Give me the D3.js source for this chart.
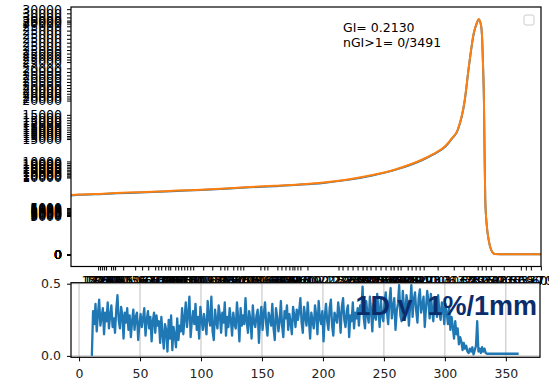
<!DOCTYPE html>
<html lang="en">
  <head>
    <title>Profile and 1D gamma</title>
    <meta charset="utf-8"/>
    <script type="text/javascript" src="https://cdn.jsdelivr.net/npm/d3@7"></script>
    <style>
     body { margin: 0; background: #fff; }
     text { font-family: "DejaVu Sans", sans-serif; }
    </style>
  </head>
  <body>
    <script type="text/javascript">
     // profile (top panel) ---------------------------------------------------------
     let profileX = [-6.6, 0, 20, 40, 60, 80, 100, 120, 140, 160, 180, 200, 220, 240, 260, 280, 290, 300, 305,
                     309.8, 315.6, 318.9, 323, 325.4, 327, 328.9, 329.9, 330.7, 331.3, 331.8, 332.4, 333.6,
                     335.2, 337.3, 340.2, 350, 365, 378];
     let measured = [7250, 7320, 7430, 7560, 7670, 7800, 7920, 8070, 8240, 8390, 8560, 8790, 9160, 9700, 10450,
                     11540, 12290, 13290, 14200, 15230, 18900, 22950, 27120, 28350, 28880, 28150, 26300, 22600,
                     18900, 12800, 6680, 3610, 1770, 545, 60, 20, 20, 20];
     let reference = [7300, 7360, 7470, 7600, 7700, 7840, 7960, 8110, 8280, 8430, 8590, 8830, 9200, 9750, 10500,
                      11600, 12350, 13350, 14250, 15280, 18960, 23000, 27180, 28400, 28900, 28160, 26320, 22640,
                      18960, 12820, 6690, 3620, 1780, 550, 60, 20, 20, 20];

     // the top plot has several twin y axes stacked on each other, each with its own top
     let yAxisTops = [25300, 25800, 26300, 26800, 27300, 27800, 28300, 28800, 29300, 29800, 30200, 30600];
     let yTickVals = [0, 5000, 10000, 15000, 20000, 25000, 30000];
     // crowded x tick positions of the top plot
     let topXTicks = [15.6, 17.2, 18.9, 20.5, 22.1, 26.2, 27.9, 29.5, 36.1, 45.9, 51.6, 56.6, 62.3, 64.8, 67.2,
                      70.5, 73.0, 74.6, 78.7, 81.1, 83.6, 86.1, 88.5, 91.0, 93.4, 101.6, 109.0, 115.6, 118.9,
                      121.3, 126.2, 129.5, 132.0, 134.4, 148.4, 151.6, 154.1, 162.3, 165.6, 168.9, 172.1, 174.6,
                      176.2, 178.7, 181.1, 186.9, 212.3, 215.6, 219.7, 223.8, 227.9, 232.0, 235.2, 238.5, 242.6,
                      246.7, 250.8, 254.9, 257.4, 260.7, 263.1, 268.9, 272.1, 275.4, 278.7, 282.0, 293.4, 306.6,
                      314.8, 326.2, 329.5, 332.8, 336.9, 347.5, 361.5, 365.6, 369.7, 377.9];
     let annotations = ["GI= 0.2130", "nGI>1= 0/3491"];

     // gamma (bottom panel) ---------------------------------------------------------
     let gammaStart = 10.5;   // mm of the first sample
     let gammaStep = 1;       // mm between samples
     let gamma = [0.00,
                  0.31, 0.22, 0.36, 0.17, 0.29, 0.39, 0.21, 0.27, 0.33, 0.15, 0.30, 0.24, 0.37, 0.19, 0.28, 0.35, 0.20, 0.26, 0.16, 0.32,
                  0.42, 0.25, 0.19, 0.34, 0.28, 0.12, 0.30, 0.23, 0.33, 0.18,
                  0.28, 0.13, 0.24, 0.32, 0.18, 0.27, 0.30, 0.11, 0.22, 0.29, 0.20, 0.26, 0.33, 0.14, 0.25, 0.31, 0.19, 0.27, 0.10, 0.24,
                  0.30, 0.16, 0.28, 0.21,
                  0.24, 0.09, 0.27, 0.15, 0.05, 0.22, 0.18, 0.03, 0.25, 0.12, 0.28, 0.04, 0.20, 0.14, 0.06, 0.26, 0.11, 0.21, 0.17,
                  0.33, 0.15, 0.26, 0.37, 0.20, 0.29, 0.41, 0.13, 0.24, 0.31, 0.22, 0.36, 0.18, 0.27, 0.12, 0.34, 0.25, 0.18, 0.29, 0.22,
                  0.15, 0.38, 0.26, 0.21, 0.41, 0.17, 0.11, 0.32, 0.24, 0.19, 0.35, 0.28, 0.16, 0.30, 0.23, 0.37, 0.14, 0.27, 0.20, 0.33,
                  0.25,
                  0.14, 0.30, 0.22, 0.19, 0.37, 0.26, 0.10, 0.33, 0.21, 0.28, 0.22, 0.40, 0.24, 0.16, 0.31, 0.25, 0.12, 0.35, 0.23, 0.20,
                  0.28, 0.32, 0.09, 0.26, 0.34, 0.18, 0.29, 0.37, 0.22, 0.14, 0.30, 0.26, 0.21, 0.36, 0.19, 0.11, 0.33, 0.27, 0.17, 0.24,
                  0.38, 0.21, 0.13, 0.31, 0.26, 0.35, 0.18, 0.29, 0.23, 0.15, 0.34, 0.28, 0.20, 0.32, 0.25, 0.31,
                  0.40, 0.23, 0.16, 0.34, 0.27, 0.21, 0.37, 0.25, 0.12, 0.30, 0.24, 0.19, 0.35, 0.28, 0.15, 0.38, 0.26, 0.22, 0.31, 0.10,
                  0.27, 0.36, 0.24, 0.18, 0.33, 0.39, 0.21, 0.14, 0.30, 0.27, 0.23, 0.37, 0.29, 0.16, 0.34, 0.40, 0.25, 0.20, 0.31, 0.35,
                  0.13, 0.28, 0.24, 0.37, 0.19, 0.30, 0.26, 0.33, 0.21, 0.35,
                  0.30, 0.48, 0.26, 0.19, 0.38, 0.29, 0.23, 0.41, 0.31, 0.17, 0.36, 0.27, 0.25, 0.43, 0.32, 0.20, 0.39, 0.28, 0.24, 0.37,
                  0.44, 0.30, 0.22, 0.38, 0.47, 0.26, 0.34, 0.40, 0.18, 0.31, 0.36, 0.49, 0.28, 0.24, 0.45, 0.33, 0.28, 0.42, 0.37, 0.21,
                  0.35, 0.49, 0.27, 0.39, 0.44, 0.31, 0.23, 0.40, 0.46, 0.30, 0.35, 0.41, 0.20, 0.33, 0.45, 0.38, 0.26, 0.43, 0.32, 0.24,
                  0.39, 0.36, 0.27, 0.42, 0.30, 0.25, 0.37, 0.33, 0.22, 0.36,
                  0.30, 0.22, 0.33, 0.18, 0.27, 0.20, 0.12, 0.24, 0.15, 0.19, 0.08, 0.13, 0.10, 0.04, 0.09, 0.05, 0.07, 0.03,
                  0.02, 0.05, 0.03, 0.06, 0.01, 0.04, 0.07, 0.24, 0.03, 0.05, 0.02, 0.06, 0.03, 0.05, 0.02,
                  0.015, 0.015, 0.015, 0.015, 0.015, 0.015, 0.015, 0.015, 0.015, 0.015, 0.015, 0.015, 0.015, 0.015,
                  0.015, 0.015, 0.015, 0.015, 0.015, 0.015, 0.015, 0.015, 0.015, 0.015, 0.015, 0.015, 0.015];
     let gammaXTicks = [0, 50, 100, 150, 200, 250, 300, 350];
     let gammaYTicks = [0, 0.5];
     let gammaLabel = "1D \u03b3  1%/1mm";

     let w = 549, h = 380;
     let svg = d3.select("body").append("svg").attr("width", w).attr("height", h);

     // top panel ------------------------------------------------------------------
     let topBox = {l: 71, r: 541, t: 7, b: 266.5};
     let xTop = d3.scaleLinear().domain([-6.6, 378]).range([topBox.l, topBox.r]);
     let yTop = d3.scaleLinear().domain([-1470, 30370]).range([topBox.b, topBox.t]);

     svg.append("clipPath").attr("id", "clipTop")
        .append("rect").attr("x", topBox.l).attr("y", topBox.t)
        .attr("width", topBox.r - topBox.l).attr("height", topBox.b - topBox.t);

     let line = (ys) => d3.line()
                          .x((d, i) => xTop(profileX[i]))
                          .y((d, i) => yTop(ys[i]))
                          .curve(d3.curveMonotoneX);

     let gTop = svg.append("g").attr("clip-path", "url(#clipTop)");
     gTop.append("path").datum(measured).attr("d", line(measured))
         .attr("fill", "none").attr("stroke", "#1f77b4").attr("stroke-width", 2);
     gTop.append("path").datum(reference).attr("d", line(reference))
         .attr("fill", "none").attr("stroke", "#ff7f0e").attr("stroke-width", 2);

     // stacked y axes
     yAxisTops.forEach((t) => {
       let s = d3.scaleLinear().domain([0, t]).range([yTop(0), yTop(28900)]);
       let ax = svg.append("g").attr("transform", "translate(" + topBox.l + ",0)")
                   .call(d3.axisLeft(s).tickValues(yTickVals.filter(v => s(v) >= topBox.t))
                           .tickFormat(d3.format("d")).tickSize(4).tickPadding(5));
       ax.select(".domain").remove();
       ax.selectAll("text").attr("font-size", "12.5px").attr("font-family", "DejaVu Sans").attr("fill", "#000");
     });

     let axTopX = svg.append("g").attr("transform", "translate(0," + topBox.b + ")")
                     .call(d3.axisBottom(xTop).tickValues(topXTicks).tickFormat(d3.format(".2f"))
                             .tickSize(4).tickPadding(5.5));
     axTopX.select(".domain").remove();
     axTopX.selectAll("text").attr("font-size", "12px").attr("font-family", "DejaVu Sans").attr("fill", "#000");

     svg.append("rect").attr("x", topBox.l).attr("y", topBox.t)
        .attr("width", topBox.r - topBox.l).attr("height", topBox.b - topBox.t)
        .attr("fill", "none").attr("stroke", "#000").attr("stroke-width", 1.2);

     svg.selectAll("text.note")
        .data(annotations)
        .enter()
        .append("text")
        .attr("class", "note")
        .text(d => d)
        .attr("x", 343)
        .attr("y", (d, i) => 31.5 + i * 15)
        .attr("font-size", "12.5px")
        .attr("fill", "#000");

     // empty legend box
     svg.append("rect").attr("x", 524).attr("y", 15).attr("width", 10).attr("height", 10)
        .attr("rx", 2).attr("fill", "#fff").attr("stroke", "#cccccc");

     // bottom panel ---------------------------------------------------------------
     let botBox = {l: 71, r: 540, t: 282.7, b: 357.3};
     let xBot = d3.scaleLinear().domain([-6.6, 378]).range([botBox.l, botBox.r]);
     let yBot = d3.scaleLinear().domain([-0.0097, 0.5069]).range([botBox.b, botBox.t]);

     // white axes background hides the lower half of the top tick labels
     svg.append("rect").attr("x", botBox.l).attr("y", botBox.t)
        .attr("width", botBox.r - botBox.l).attr("height", botBox.b - botBox.t).attr("fill", "#fff");

     svg.selectAll("line.vgrid")
        .data(gammaXTicks)
        .enter()
        .append("line")
        .attr("class", "vgrid")
        .attr("x1", d => xBot(d)).attr("x2", d => xBot(d))
        .attr("y1", botBox.t).attr("y2", botBox.b)
        .attr("stroke", "#b0b0b0").attr("stroke-width", 0.8);
     svg.selectAll("line.hgrid")
        .data(gammaYTicks)
        .enter()
        .append("line")
        .attr("class", "hgrid")
        .attr("x1", botBox.l).attr("x2", botBox.r)
        .attr("y1", d => yBot(d)).attr("y2", d => yBot(d))
        .attr("stroke", "#b0b0b0").attr("stroke-width", 0.8);

     svg.append("path").datum(gamma)
        .attr("d", d3.line().x((d, i) => xBot(gammaStart + i * gammaStep)).y(d => yBot(d)))
        .attr("fill", "none").attr("stroke", "#1f77b4").attr("stroke-width", 2.3)
        .attr("stroke-linejoin", "round");

     svg.append("rect").attr("x", botBox.l).attr("y", botBox.t)
        .attr("width", botBox.r - botBox.l).attr("height", botBox.b - botBox.t)
        .attr("fill", "none").attr("stroke", "#000").attr("stroke-width", 1.2);

     let axBotX = svg.append("g").attr("transform", "translate(0," + botBox.b + ")")
                     .call(d3.axisBottom(xBot).tickValues(gammaXTicks).tickSize(4).tickPadding(7.5));
     let axBotY = svg.append("g").attr("transform", "translate(" + botBox.l + ",0)")
                     .call(d3.axisLeft(yBot).tickValues(gammaYTicks).tickFormat(d3.format(".1f"))
                             .tickSize(4).tickPadding(6));
     [axBotX, axBotY].forEach(ax => {
       ax.select(".domain").remove();
       ax.selectAll("text").attr("font-size", "12.5px").attr("font-family", "DejaVu Sans").attr("fill", "#222");
     });

     svg.append("text")
        .attr("x", 537).attr("y", 315)
        .attr("text-anchor", "end")
        .attr("xml:space", "preserve")
        .style("white-space", "pre")
        .attr("font-family", "Liberation Sans, Arial, sans-serif")
        .style("font-family", "Liberation Sans, Arial, sans-serif")
        .attr("font-size", "27px")
        .attr("font-weight", "bold")
        .attr("fill", "#0b2d6c")
        .text(gammaLabel);
    </script>
  </body>
</html>
